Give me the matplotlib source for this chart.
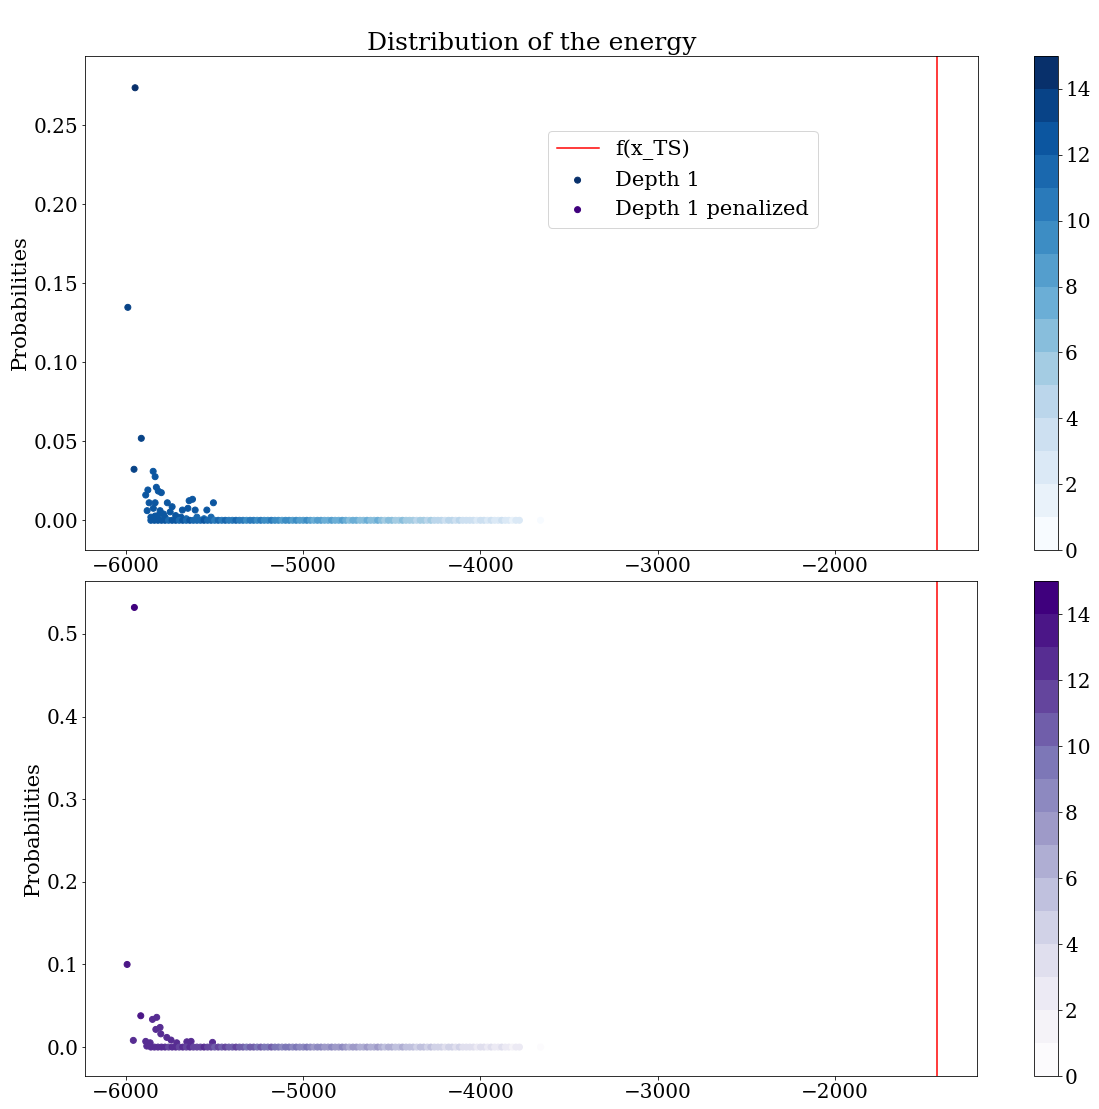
import matplotlib
matplotlib.use('Agg')
import matplotlib.pyplot as plt

plt.rcParams['font.family'] = 'serif'
plt.rcParams['font.size'] = 20

# energy of the transition state
x_ts = -1421

# depth 1: the high-probability states
peak_energy = [-5949, -5990, -5914, -5955, -5847, -5836, -5829, -5818, -5801, -5877,
               -5889, -5870, -5836, -5767, -5644, -5625, -5507, -5881, -5740, -5682,
               -5544, -5846, -5808, -5751, -5610, -5651, -5836, -5789,
               -5860, -5820, -5780, -5720, -5690, -5660, -5600, -5560, -5520]
peak_prob = [0.2738, 0.1348, 0.0519, 0.0323, 0.0310, 0.0276, 0.0209, 0.0185, 0.0175, 0.0192,
             0.0160, 0.0111, 0.0111, 0.0111, 0.0124, 0.0133, 0.0111, 0.0061, 0.0086, 0.0065,
             0.0065, 0.0076, 0.0061, 0.0053, 0.0065, 0.0076, 0.0027, 0.0040,
             0.0020, 0.0030, 0.0020, 0.0030, 0.0020, 0.0010, 0.0020, 0.0010, 0.0020]
peak_val = [14.6, 13.6, 13.2, 13.0, 12.8, 12.8, 12.6, 12.6, 12.5, 12.8,
            12.8, 12.6, 12.5, 12.3, 12.2, 12.2, 12.0, 12.5, 12.2, 12.2,
            12.0, 12.5, 12.3, 12.2, 12.0, 12.0, 12.4, 12.2,
            12.5, 12.3, 12.2, 12.0, 12.0, 11.8, 11.8, 11.6, 11.6]

# depth 1 penalized: the high-probability states
pen_energy = [-5953, -5994, -5917, -5959, -5851, -5827, -5832, -5808, -5804, -5770,
              -5746, -5889, -5714, -5657, -5633, -5512, -5864, -5883]
pen_prob = [0.532, 0.100, 0.0379, 0.0081, 0.0335, 0.0360, 0.0214, 0.0238, 0.0160, 0.0117,
            0.0085, 0.0069, 0.0052, 0.0064, 0.0069, 0.0057, 0.0052, 0.0012]
pen_val = [14.6, 13.4, 13.0, 12.8, 12.8, 12.8, 12.6, 12.6, 12.5, 12.4,
           12.3, 12.6, 12.2, 12.2, 12.1, 12.0, 12.5, 12.5]

# the long tail of states with almost zero probability (same in both runs)
tail_energy = [-5860, -5840, -5820, -5800, -5780, -5760, -5740, -5720, -5700, -5680,
               -5660, -5640, -5620, -5600, -5580, -5560, -5540, -5520, -5500, -5480,
               -5460, -5440, -5420, -5400, -5380, -5360, -5340, -5320, -5300, -5280,
               -5260, -5240, -5220, -5200, -5180, -5160, -5140, -5120, -5100, -5080,
               -5060, -5040, -5020, -5000, -4980, -4960, -4940, -4920, -4900, -4880,
               -4860, -4840, -4820, -4800, -4780, -4760, -4740, -4720, -4700, -4680,
               -4660, -4640, -4620, -4600, -4580, -4560, -4540, -4520, -4500, -4480,
               -4460, -4440, -4420, -4400, -4380, -4360, -4340, -4320, -4300, -4280,
               -4260, -4240, -4220, -4200, -4180, -4160, -4140, -4120, -4100, -4080,
               -4060, -4040, -4020, -4000, -3980, -3960, -3940, -3920, -3900, -3880,
               -3860, -3840, -3820, -3800, -3780, -3661]
tail_val = [12.5, 12, 12.5, 12, 12.5, 11.5, 12, 12.5, 11.5, 12,
            11.5, 12, 11, 11.5, 11, 12, 11, 11.5, 10.5, 11,
            10.5, 11, 10, 10.5, 11, 10, 10.5, 9.5, 10, 10.5,
            9.5, 10, 9, 9.5, 10, 9, 9.5, 8.5, 9, 9.5,
            8.5, 9, 8, 8.5, 9, 8, 7.5, 8, 8.5, 7.5,
            7.5, 8, 7, 7.5, 8, 7, 6.5, 7, 7.5, 6.5,
            6.5, 7, 6, 6.5, 7, 6, 5.5, 6, 6.5, 5.5,
            5.5, 6, 5, 5.5, 5, 4.5, 5, 5.5, 4.5, 5,
            4.5, 4, 4.5, 3.5, 4, 4.5, 3.5, 4, 3, 3.5,
            3.5, 3, 2.5, 3, 3.5, 2.5, 3, 2, 2.5, 3,
            2, 2.5, 1.5, 2, 2, 0.5]
tail_prob = [0.0] * len(tail_energy)

W, H = 1099, 1109
fig = plt.figure(figsize=(W / 72, H / 72), dpi=72)


def box(l, t, r, b):
    return [l / W, 1 - b / H, (r - l) / W, (b - t) / H]


ax1 = fig.add_axes(box(85.3, 56, 978, 550))
cax1 = fig.add_axes(box(1034, 56, 1058, 550))
ax2 = fig.add_axes(box(85.3, 581, 977, 1076))
cax2 = fig.add_axes(box(1034, 581, 1058, 1076))

blues = plt.get_cmap('Blues', 15)
purples = plt.get_cmap('Purples', 15)

sc1 = ax1.scatter(peak_energy + tail_energy, peak_prob + tail_prob, c=peak_val + tail_val,
                  cmap=blues, vmin=0, vmax=15, label='Depth 1')
line1 = ax1.axvline(x_ts, color='red', label='f(x_TS)')
ax1.set_xlim(-6230, -1192)
ax1.set_ylim(-0.0188, 0.2939)
ax1.set_ylabel('Probabilities', fontsize=21)
ax1.set_title('Distribution of the energy', fontsize=25)
fig.colorbar(sc1, cax=cax1, ticks=range(0, 15, 2))

sc2 = ax2.scatter(pen_energy + tail_energy, pen_prob + tail_prob, c=pen_val + tail_val,
                  cmap=purples, vmin=0, vmax=15, label='Depth 1 penalized')
ax2.axvline(x_ts, color='red')
ax2.set_xlim(-6230, -1198)
ax2.set_ylim(-0.035, 0.564)
ax2.set_ylabel('Probabilities', fontsize=21)
fig.colorbar(sc2, cax=cax2, ticks=range(0, 15, 2))

ax1.legend(handles=[line1, sc1, sc2], loc='upper left', fontsize=21,
           bbox_to_anchor=(0.5185, 0.848), borderaxespad=0)

fig.savefig('out.png', dpi=72)
